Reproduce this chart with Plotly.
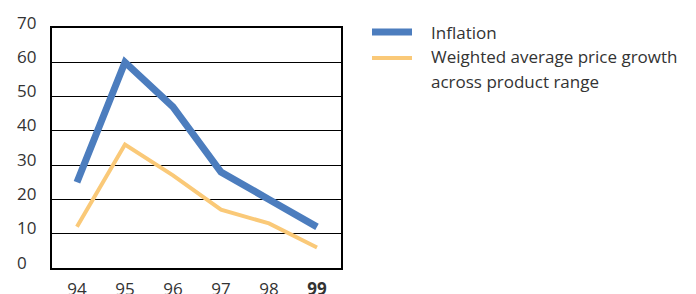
import plotly.graph_objects as go

years = [94, 95, 96, 97, 98, 99]
year_labels = ["94", "95", "96", "97", "98", "<b>99</b>"]
inflation = [25, 60, 47, 28, 20, 12]
weighted = [12, 36, 27, 17, 13, 6]
y_ticks = [0, 10, 20, 30, 40, 50, 60, 70]
legend_names = ["Inflation", "Weighted average price growth", "across product range"]

BLUE = "#4C7DBE"
ORANGE = "#FAC978"
TXT = "#333333"
FONT = "Open Sans"
FS = 17

W, H = 696, 294
OFF = 8  # page body margin
# target plot area in screen pixels
L, R, T, B = 52, 341, 28, 268

def px(x):
    return (x - L) / (R - L)

def py(y):
    return (B - y) / (B - T)

fig = go.Figure()
fig.add_trace(go.Scatter(x=years, y=inflation, mode="lines",
                         line=dict(color=BLUE, width=7), showlegend=False))
fig.add_trace(go.Scatter(x=years, y=weighted, mode="lines",
                         line=dict(color=ORANGE, width=4), showlegend=False))

annotations = []
for v in y_ticks:
    annotations.append(dict(x=px(15), xref="paper", y=v, yref="y", text=str(v),
                            showarrow=False, xanchor="left", yanchor="middle",
                            yshift=6, font=dict(family=FONT, size=FS, color=TXT)))

shapes = [
    dict(type="line", xref="paper", yref="paper", x0=px(372), x1=px(412), y0=py(32), y1=py(32),
         line=dict(color=BLUE, width=7)),
    dict(type="line", xref="paper", yref="paper", x0=px(372), x1=px(412), y0=py(58), y1=py(58),
         line=dict(color=ORANGE, width=4)),
]
for name, yc in zip(legend_names, [32.5, 56.5, 81]):
    annotations.append(dict(x=px(429), xref="paper", y=py(yc), yref="paper", text=name,
                            showarrow=False, xanchor="left", yanchor="middle",
                            font=dict(family=FONT, size=FS, color=TXT)))

fig.update_layout(
    width=W, height=H,
    margin=dict(l=L - OFF, r=W + OFF - R, t=T - OFF, b=H + OFF - B, autoexpand=False),
    paper_bgcolor="white", plot_bgcolor="white",
    xaxis=dict(range=[93.48, 99.5], tickmode="array", tickvals=years, ticktext=year_labels,
               showgrid=False, zeroline=False, showline=True, mirror=True,
               linecolor="black", linewidth=1.5, ticks="", automargin=False,
               tickfont=dict(family=FONT, size=FS, color=TXT), ticklabelstandoff=5),
    yaxis=dict(range=[0, 70], tickmode="array", tickvals=y_ticks, showticklabels=False,
               showgrid=True, gridcolor="black", gridwidth=1, zeroline=False, automargin=False,
               showline=True, mirror=True, linecolor="black", linewidth=1.5, ticks=""),
    shapes=shapes,
    annotations=annotations,
)

fig.write_html("out.html")
